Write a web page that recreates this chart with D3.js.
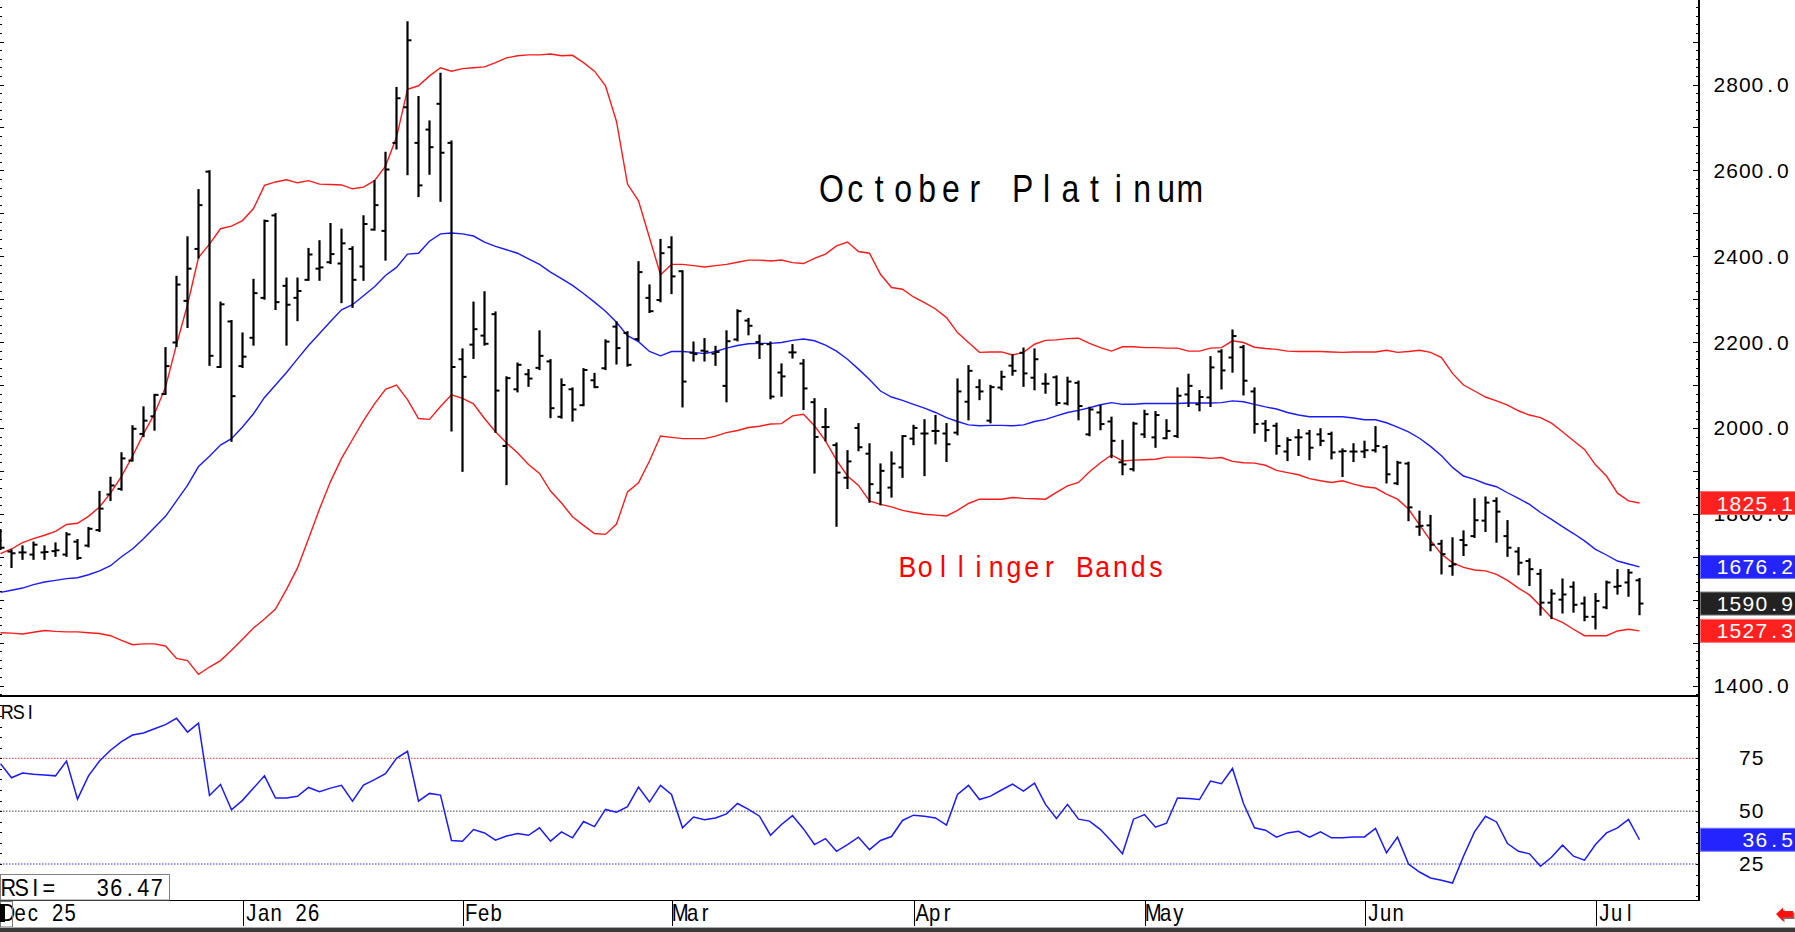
<!DOCTYPE html>
<html>
<head>
<meta charset="utf-8">
<script src="https://cdn.jsdelivr.net/npm/d3@7"></script>
<style>
  body { margin: 0; background: #fff; }
  svg { display: block; }
  text { font-family: "Liberation Sans", Arial, sans-serif; white-space: pre; }
</style>
</head>
<body>
<div id="chart"></div>
<script>
// month tick labels and the bar index where each month starts
const monthLabels = ["Dec 25", "Jan 26", "Feb", "Mar", "Apr", "May", "Jun", "Jul"];
const monthStart = [0, 22, 42, 61, 83, 104, 124, 145];

// daily OHLC, October platinum
const open = [
  1745,1712,1710,1705,1710,1713,1705,1735,1726,1762,
  1845,1858,1924,1986,2027,2079,2199,2296,2417,2597,
  2142,2248,2144,2210,2303,2495,2331,2303,2345,2371,
  2386,2383,2417,2376,2462,2459,2664,2747,2664,2695,
  2755,2664,2160,2194,2215,2265,1958,2090,2125,2140,
  2155,2026,2090,2053,2111,2139,2236,2221,2207,2303,
  2298,2421,2365,2175,2180,2173,2098,2206,2250,2200,
  2195,2129,2176,2150,2060,2002,1960,1884,2000,1940,
  1849,1861,1908,1975,1987,1993,1987,1989,2061,2095,
  2017,2094,2145,2175,2117,2103,2118,2057,2105,1985,
  2036,2015,1920,1904,1985,1978,1976,1981,2078,2055,
  2071,2178,2164,2188,2085,2010,2005,1945,1978,1987,
  1985,1986,1945,1945,1945,1948,1955,1871,1917,1770,
  1773,1730,1678,1739,1748,1784,1830,1748,1712,1690,
  1660,1593,1600,1630,1591,1560,1582,1630,1640,1645
];
const high = [
  1762,1715,1724,1733,1724,1731,1755,1739,1767,1851,
  1884,1941,2004,2048,2077,2186,2352,2444,2554,2598,
  2292,2249,2220,2345,2483,2498,2348,2348,2417,2435,
  2475,2462,2421,2493,2575,2641,2792,2945,2771,2714,
  2825,2667,2183,2292,2316,2269,2118,2150,2135,2225,
  2158,2113,2092,2137,2126,2204,2246,2223,2386,2332,
  2438,2444,2365,2199,2207,2189,2225,2274,2254,2215,
  2199,2148,2193,2158,2067,2044,1964,1946,2009,1962,
  1915,1943,1981,2005,2018,2028,2009,2113,2144,2111,
  2098,2131,2170,2185,2183,2125,2120,2117,2108,2047,
  2051,2024,1970,2012,2040,2037,2018,2092,2124,2086,
  2165,2181,2227,2191,2092,2016,2010,1976,1995,1993,
  1997,1989,1950,1962,1968,2002,1958,1921,1919,1805,
  1795,1737,1743,1759,1834,1838,1836,1783,1720,1694,
  1669,1622,1647,1640,1605,1613,1642,1669,1669,1648
];
const low = [
  1718,1676,1695,1695,1695,1702,1702,1695,1724,1760,
  1832,1856,1924,1981,1996,2079,2191,2235,2397,2147,
  2142,1970,2142,2194,2301,2277,2194,2251,2345,2345,
  2384,2293,2282,2345,2462,2392,2651,2591,2540,2592,
  2529,1994,1900,2163,2194,1991,1869,2085,2098,2137,
  2025,2024,2017,2053,2095,2137,2150,2145,2204,2270,
  2295,2314,2050,2157,2157,2147,2062,2204,2218,2163,
  2069,2075,2164,2044,1896,1971,1772,1860,1948,1828,
  1822,1840,1886,1962,1890,1964,1923,1985,2020,2067,
  2013,2090,2124,2098,2090,2082,2054,2055,2020,1983,
  1997,1932,1892,1901,1979,1956,1976,1979,2051,2041,
  2051,2092,2131,2078,1989,1970,1940,1925,1937,1927,
  1960,1929,1888,1923,1932,1945,1873,1869,1785,1751,
  1715,1661,1658,1704,1746,1760,1735,1702,1659,1634,
  1565,1557,1570,1572,1552,1533,1580,1614,1609,1566
];
const close = [
  1721,1708,1710,1728,1711,1715,1752,1697,1765,1812,
  1866,1929,1998,2017,2077,2144,2334,2371,2519,2168,
  2288,2074,2166,2314,2482,2293,2287,2319,2404,2374,
  2405,2430,2345,2475,2519,2602,2768,2903,2565,2654,
  2641,2142,2119,2230,2196,2087,2116,2147,2115,2168,
  2046,2100,2043,2135,2095,2201,2186,2147,2363,2272,
  2407,2353,2108,2172,2178,2177,2202,2272,2238,2195,
  2073,2120,2176,2092,1979,2002,1896,1922,1955,1869,
  1900,1917,1981,2000,1987,1993,1962,2085,2133,2085,
  2095,2119,2133,2127,2160,2103,2058,2108,2051,2043,
  2009,1970,1915,2010,2032,2030,1993,2075,2098,2072,
  2141,2134,2214,2110,2009,1995,1958,1972,1978,1954,
  1970,1943,1946,1945,1948,1958,1892,1919,1815,1772,
  1728,1706,1682,1727,1785,1826,1805,1721,1686,1671,
  1593,1614,1612,1588,1560,1597,1640,1632,1663,1590.9
];

// Bollinger bands
const upperBand = [
  1707,1718,1733,1742,1750,1759,1775,1778,1794,1816,
  1848,1887,1934,1986,2033,2095,2194,2287,2397,2428,
  2464,2470,2483,2511,2565,2573,2578,2571,2576,2568,
  2567,2566,2557,2561,2576,2610,2677,2789,2797,2820,
  2839,2831,2837,2839,2841,2851,2862,2867,2869,2869,
  2871,2867,2868,2851,2831,2797,2714,2568,2529,2443,
  2357,2381,2381,2378,2375,2378,2381,2386,2391,2391,
  2389,2391,2385,2383,2395,2405,2424,2433,2411,2407,
  2358,2327,2323,2305,2292,2277,2257,2222,2199,2176,
  2177,2177,2170,2176,2195,2204,2205,2208,2209,2197,
  2187,2179,2189,2189,2187,2187,2186,2186,2179,2179,
  2186,2187,2203,2199,2188,2185,2183,2179,2178,2178,
  2178,2177,2176,2177,2177,2177,2181,2176,2178,2181,
  2176,2164,2127,2100,2086,2072,2063,2053,2040,2030,
  2024,2011,1991,1970,1950,1914,1888,1848,1830,1825.1
];
const midBand = [
  1617,1622,1627,1635,1641,1645,1649,1651,1658,1667,
  1679,1700,1718,1742,1768,1794,1830,1866,1910,1934,
  1960,1975,2002,2033,2071,2100,2129,2161,2192,2220,
  2248,2275,2287,2308,2329,2355,2374,2405,2407,2435,
  2452,2454,2452,2447,2433,2423,2415,2407,2394,2381,
  2363,2348,2332,2313,2293,2272,2246,2215,2201,2178,
  2168,2178,2178,2176,2173,2178,2186,2192,2196,2197,
  2197,2199,2204,2207,2203,2193,2179,2160,2137,2113,
  2086,2072,2064,2055,2046,2036,2024,2015,2007,2005,
  2006,2006,2005,2007,2015,2020,2028,2036,2041,2047,
  2054,2059,2055,2055,2057,2057,2057,2057,2058,2058,
  2058,2059,2063,2061,2055,2049,2044,2036,2030,2026,
  2026,2026,2026,2023,2019,2019,2012,2002,1991,1976,
  1957,1935,1908,1888,1880,1870,1863,1849,1836,1822,
  1803,1787,1770,1754,1737,1717,1704,1690,1683,1676.2
];
const lowerBand = [
  1523,1522,1520,1524,1528,1526,1525,1525,1523,1521,
  1516,1505,1495,1497,1497,1492,1463,1458,1426,1443,
  1458,1482,1508,1534,1555,1578,1624,1674,1742,1811,
  1875,1929,1973,2017,2056,2090,2100,2066,2022,2020,
  2050,2077,2069,2056,2022,1991,1965,1942,1915,1894,
  1853,1825,1793,1773,1754,1752,1776,1851,1872,1923,
  1981,1978,1975,1975,1975,1981,1989,1994,2001,2004,
  2009,2010,2028,2032,2005,1970,1925,1888,1866,1830,
  1822,1816,1808,1803,1799,1797,1795,1808,1824,1834,
  1834,1834,1838,1836,1835,1834,1850,1865,1873,1898,
  1919,1937,1923,1925,1926,1927,1932,1932,1932,1931,
  1929,1931,1922,1919,1918,1913,1901,1896,1891,1882,
  1877,1873,1877,1869,1863,1860,1846,1834,1811,1774,
  1738,1706,1686,1675,1669,1667,1659,1645,1627,1611,
  1585,1558,1547,1531,1516,1516,1516,1527,1531,1527.3
];

const rsi = [
  72.4,65.8,68.0,67.4,67.1,66.7,73.7,55.7,66.7,73.7,
  78.8,82.9,86.0,87.0,89.0,90.9,93.9,87.4,91.6,57.4,
  62.6,50.6,55.1,60.9,66.7,56.2,56.2,57.0,61.2,59.2,
  60.9,62.2,54.7,62.3,64.9,67.7,75.0,78.3,54.7,58.4,
  57.6,36.1,35.8,41.3,39.7,36.3,38.2,39.4,38.6,42.1,
  35.8,40.2,37.4,45.1,42.7,50.8,49.5,52.1,61.4,54.3,
  62.2,57.9,42.1,47.2,45.9,46.8,48.7,53.6,50.8,47.6,
  38.6,43.7,47.9,41.6,34.2,37.0,31.0,34.2,37.7,31.8,
  36.1,38.0,45.6,48.1,47.6,46.8,43.4,57.9,62.2,55.5,
  57.1,60.0,62.8,59.5,63.3,53.2,46.5,53.2,46.2,45.3,
  41.3,35.8,29.9,46.2,48.4,42.4,44.3,56.2,56.0,55.5,
  64.2,63.0,70.2,53.6,42.1,41.0,37.7,39.7,40.5,37.7,
  40.2,37.4,37.4,37.8,37.8,41.8,30.3,37.7,25.0,21.2,
  18.4,17.3,16.0,28.7,40.2,47.6,44.9,34.7,31.0,29.8,
  23.9,28.2,33.9,28.7,26.8,34.2,39.7,42.1,46.1,36.47
];

const priceTicks = [1400, 1600, 1800, 2000, 2200, 2400, 2600, 2800];
const rsiTicks = [25, 50, 75];
const rsiLevels = [{v: 75, color: "#ff3030"}, {v: 50, color: "#444"}, {v: 25, color: "#3030ff"}];

const RED = "#ff1a1a", BLUE = "#1a1aff";
const W = 1795, H = 932;
const axisX = 1699;
const mainBottom = 696, rsiBottom = 900;

const svg = d3.select("#chart").append("svg")
    .attr("width", W)
    .attr("height", H);

const x = d3.scaleLinear().domain([0, 145]).range([0.5, 1595.5]);
const y = d3.scaleLinear().domain([1400, 2800]).range([685.5, 84.5]);
const ry = d3.scaleLinear().domain([25, 75]).range([864, 758.3]);

// text laid out in fixed cells, like the terminal font of the original
function cellText(parent, str, o) {
    const sx = o.sx || 1;
    const t = parent.append("text")
        .attr("transform", `translate(${o.x},${o.y}) scale(${sx},1)`)
        .attr("font-size", o.size)
        .attr("fill", o.fill || "#000")
        .attr("text-anchor", "middle");
    const cw = o.cell / sx;
    [...str].forEach((ch, k) => {
        t.append("tspan").attr("x", (k + 0.5) * cw).attr("y", 0).text(ch);
    });
    return t;
}

svg.append("defs").append("clipPath").attr("id", "mainClip")
    .append("rect").attr("x", 0).attr("y", 0).attr("width", axisX).attr("height", mainBottom - 1);
svg.select("defs").append("clipPath").attr("id", "rsiClip")
    .append("rect").attr("x", 0).attr("y", mainBottom + 1).attr("width", axisX).attr("height", rsiBottom - mainBottom - 1);

// ---------- main panel ----------
const main = svg.append("g").attr("clip-path", "url(#mainClip)");

const bandLine = d3.line().x((d, i) => x(i)).y(d => y(d));
[[upperBand, RED], [lowerBand, RED], [midBand, BLUE]].forEach(([arr, col]) => {
    main.append("path")
        .datum(arr)
        .attr("fill", "none")
        .attr("stroke", col)
        .attr("stroke-width", 1.4)
        .attr("d", bandLine);
});

const bars = close.map((c, i) => ({i, o: open[i], h: high[i], l: low[i], c}));
const barG = main.append("g").attr("stroke", "#000");
barG.selectAll(".hl").data(bars).join("line")
    .attr("class", "hl")
    .attr("x1", d => x(d.i)).attr("x2", d => x(d.i))
    .attr("y1", d => y(d.h) - 1).attr("y2", d => y(d.l) + 1)
    .attr("stroke-width", 2.2);
barG.selectAll(".op").data(bars).join("line")
    .attr("class", "op")
    .attr("x1", d => x(d.i) - 4).attr("x2", d => x(d.i))
    .attr("y1", d => y(d.o)).attr("y2", d => y(d.o))
    .attr("stroke-width", 2);
barG.selectAll(".cl").data(bars).join("line")
    .attr("class", "cl")
    .attr("x1", d => x(d.i)).attr("x2", d => x(d.i) + 4)
    .attr("y1", d => y(d.c)).attr("y2", d => y(d.c))
    .attr("stroke-width", 2);

cellText(svg, "October Platinum", {x: 819.5, y: 202, size: 39, sx: 0.82, cell: 23.9});
cellText(svg, "Bollinger Bands", {x: 898.5, y: 577, size: 29, sx: 0.92, cell: 17.75, fill: "#ff0000"});

// ---------- RSI panel ----------
const rsiG = svg.append("g").attr("clip-path", "url(#rsiClip)");
rsiLevels.forEach(lv => {
    rsiG.append("line")
        .attr("x1", 0).attr("x2", axisX)
        .attr("y1", ry(lv.v)).attr("y2", ry(lv.v))
        .attr("stroke", lv.color)
        .attr("stroke-width", 1)
        .attr("stroke-dasharray", "1.5,1.5");
});
rsiG.append("path")
    .datum(rsi)
    .attr("fill", "none")
    .attr("stroke", BLUE)
    .attr("stroke-width", 1.5)
    .attr("d", d3.line().x((d, i) => x(i)).y(d => ry(d)));

cellText(svg, "RSI", {x: 1.5, y: 719, size: 20, sx: 0.9, cell: 11.5});

// ---------- frame and axes ----------
const frame = svg.append("g").attr("shape-rendering", "crispEdges");
frame.append("line").attr("x1", 0).attr("x2", axisX + 1).attr("y1", mainBottom).attr("y2", mainBottom)
    .attr("stroke", "#000").attr("stroke-width", 2);
frame.append("line").attr("x1", 0).attr("x2", axisX + 1).attr("y1", rsiBottom).attr("y2", rsiBottom)
    .attr("stroke", "#000").attr("stroke-width", 1);
frame.append("line").attr("x1", axisX).attr("x2", axisX).attr("y1", 0).attr("y2", rsiBottom)
    .attr("stroke", "#000").attr("stroke-width", 1.2);

// price ticks, every 20 with longer ones every 100
const pTicks = d3.range(1380, 3000, 20).filter(v => y(v) > 0 && y(v) < mainBottom - 1);
frame.selectAll(".prt").data(pTicks).join("line")
    .attr("x1", d => axisX - (d % 100 === 0 ? 6 : 3)).attr("x2", axisX)
    .attr("y1", d => Math.round(y(d)) + 0.5).attr("y2", d => Math.round(y(d)) + 0.5)
    .attr("stroke", "#000");
frame.selectAll(".plt").data(pTicks).join("line")
    .attr("x1", 0).attr("x2", d => (d % 100 === 0 ? 3.5 : 2))
    .attr("y1", d => Math.round(y(d)) + 0.5).attr("y2", d => Math.round(y(d)) + 0.5)
    .attr("stroke", "#000");

// RSI ticks every 5
const rTicks = d3.range(10, 105, 5).filter(v => ry(v) > mainBottom + 2 && ry(v) < rsiBottom - 1);
frame.selectAll(".rrt").data(rTicks).join("line")
    .attr("x1", axisX - 3).attr("x2", axisX)
    .attr("y1", d => Math.round(ry(d)) + 0.5).attr("y2", d => Math.round(ry(d)) + 0.5)
    .attr("stroke", "#000");
frame.selectAll(".rlt").data(rTicks).join("line")
    .attr("x1", 0).attr("x2", 2)
    .attr("y1", d => Math.round(ry(d)) + 0.5).attr("y2", d => Math.round(ry(d)) + 0.5)
    .attr("stroke", "#000");

priceTicks.forEach(v => {
    cellText(svg, d3.format(".1f")(v), {x: 1713, y: y(v) + 7.5, size: 21, cell: 12.7});
});
rsiTicks.forEach(v => {
    cellText(svg, String(v), {x: 1738.5, y: ry(v) + 7, size: 21, cell: 12.7});
});

// last-value boxes on the right scale
const last = close.length - 1;
const valueBoxes = [
    {v: upperBand[last], color: "#ff2020", edge: "#ff7070", sy: y},
    {v: midBand[last], color: "#2424ff", edge: "#7070ff", sy: y},
    {v: close[last], color: "#222222", edge: "#777777", sy: y},
    {v: lowerBand[last], color: "#ff2020", edge: "#ff7070", sy: y},
    {v: rsi[last], color: "#2424ff", edge: "#7070ff", sy: ry}
];
valueBoxes.forEach(b => {
    const cy = b.sy(b.v);
    svg.append("rect")
        .attr("x", 1700.5).attr("y", cy - 11.5)
        .attr("width", 96).attr("height", 23)
        .attr("fill", b.color).attr("stroke", b.edge);
    const s = d3.format(".1f")(b.v);
    cellText(svg, s, {x: 1793.5 - s.length * 12.9, y: cy + 7.5, size: 21, cell: 12.9, fill: "#fff"});
});

// month separators and labels
monthStart.forEach((ix, k) => {
    const sx0 = Math.round(x(ix)) + 0.5;
    if (k > 0) {
        frame.append("line").attr("x1", sx0).attr("x2", sx0).attr("y1", rsiBottom).attr("y2", 926)
            .attr("stroke", "#000");
    }
    cellText(svg, monthLabels[k], {x: k === 0 ? 1.5 : sx0 + 1.5, y: 921, size: 23, sx: 0.88, cell: 12.5});
});

// cursor marker at the left of the date row
svg.append("rect").attr("x", 0.5).attr("y", 901.5).attr("width", 12).attr("height", 25.5)
    .attr("fill", "none").attr("stroke", "#777");
svg.append("rect").attr("x", 0).attr("y", 904).attr("width", 5).attr("height", 18).attr("fill", "#000");

// RSI readout box
svg.append("rect").attr("x", 0.5).attr("y", 874.5).attr("width", 169).attr("height", 25.5)
    .attr("fill", "#fff").attr("stroke", "#808080");
cellText(svg, "RSI=   " + d3.format(".2f")(rsi[last]), {x: 1.5, y: 896, size: 24, sx: 0.9, cell: 13.5});

// bottom strip and scroll arrow
svg.append("rect").attr("x", 0).attr("y", 927).attr("width", W).attr("height", 1).attr("fill", "#aaa");
svg.append("rect").attr("x", 0).attr("y", 928).attr("width", W).attr("height", 4).attr("fill", "#3a3a3a");
const arrow = [[1776, 914], [1783, 907.5], [1783, 911], [1793, 911], [1793, 917.5], [1783, 917.5], [1783, 921]];
svg.append("polygon").attr("points", arrow.map(p => [p[0] + 1.5, p[1] + 1.5].join(",")).join(" ")).attr("fill", "#777");
svg.append("polygon").attr("points", arrow.map(p => p.join(",")).join(" ")).attr("fill", "#ff1010");
</script>
</body>
</html>
